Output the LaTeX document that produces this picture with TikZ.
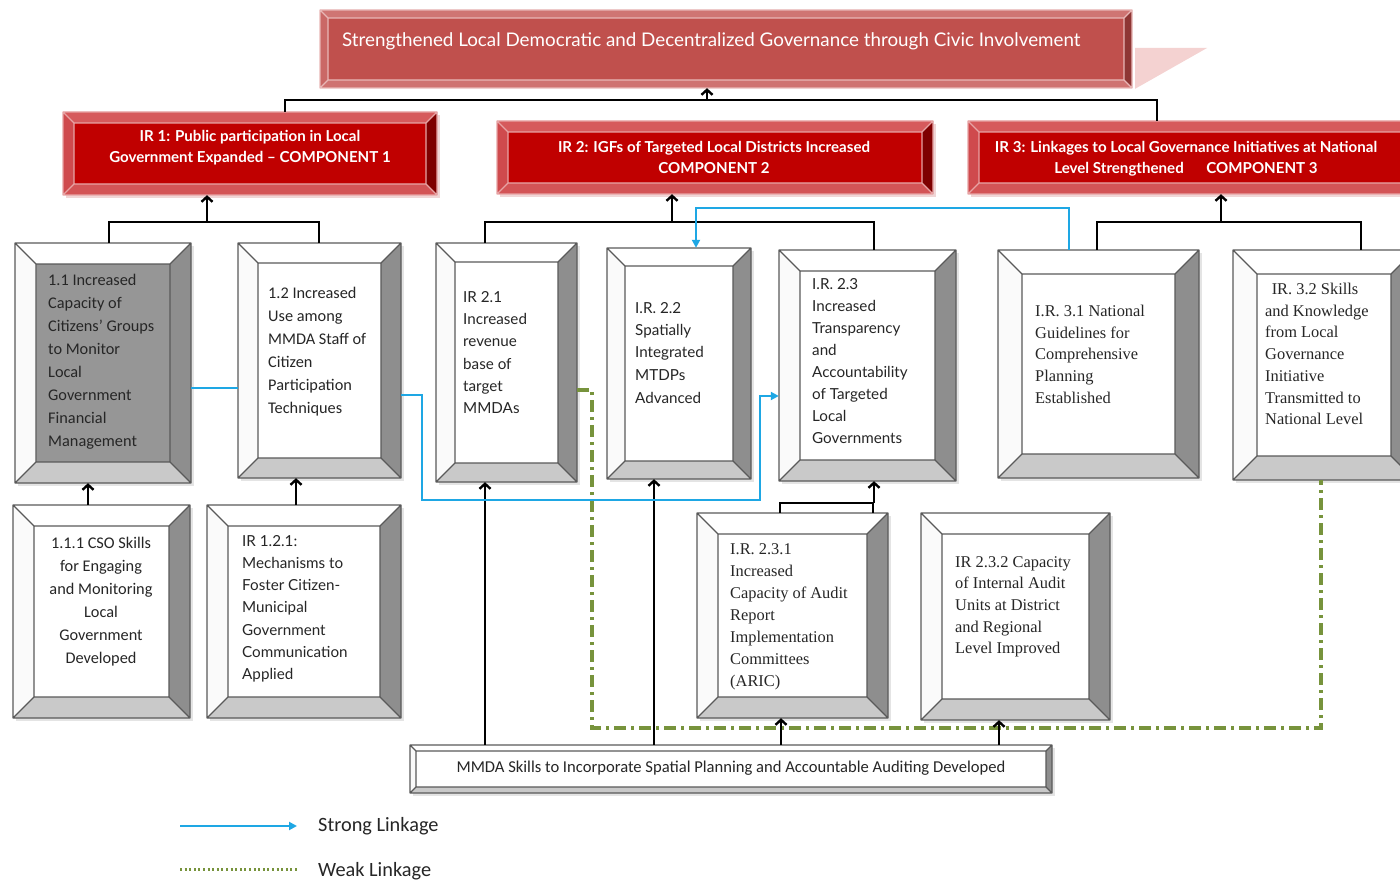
\documentclass[tikz,border=0pt]{standalone}
\usepackage{fontspec}
\setmainfont{Carlito}
\newfontfamily\gillf{Lato}
\newfontfamily\romf{Liberation Serif}
\usetikzlibrary{arrows.meta,fit}

% grey bevelled boxes
\definecolor{gface}{HTML}{FFFFFF}
\definecolor{gtop}{HTML}{FFFFFF}
\definecolor{gleft}{HTML}{FAFAFA}
\definecolor{gright}{HTML}{8E8E8E}
\definecolor{gbot}{HTML}{C9C9C9}
\definecolor{gedge}{HTML}{5A5A5A}
\definecolor{gshadow}{HTML}{E4E4E4}
% grey bevelled box with a dark face
\colorlet{dface}{black!41}
\colorlet{dtop}{gtop}
\colorlet{dleft}{gleft}
\colorlet{dright}{gright}
\colorlet{dbot}{gbot}
\colorlet{dedge}{gedge}
\colorlet{dshadow}{gshadow}
% dark red result boxes
\definecolor{rface}{HTML}{C00000}
\definecolor{rtop}{HTML}{D65A5C}
\definecolor{rleft}{HTML}{CF4A4D}
\definecolor{rright}{HTML}{7E0000}
\definecolor{rbot}{HTML}{D35456}
\definecolor{redge}{HTML}{E7A3A4}
\definecolor{rshadow}{HTML}{F0D6D6}
% goal banner
\definecolor{bface}{HTML}{C0504D}
\definecolor{btop}{HTML}{CF7573}
\definecolor{bleft}{HTML}{CA6866}
\definecolor{bright}{HTML}{8E3634}
\definecolor{bbot}{HTML}{CF7371}
\definecolor{bedge}{HTML}{E8B7B6}
\definecolor{bshadow}{HTML}{FFFFFF}
\definecolor{bpersp}{HTML}{F4D2D1}
% links
\definecolor{strongc}{HTML}{1EA7E4}
\definecolor{weakc}{HTML}{77933C}
\definecolor{txtc}{HTML}{262626}

% #1 name, #2 x1, #3 y1, #4 x2, #5 y2, #6 bevel, #7 colour scheme
\newcommand\bevbox[7]{%
  \fill[#7shadow] (#2+3,#3+3) rectangle (#4+3,#5+3);
  \fill[#7face] (#2,#3) rectangle (#4,#5);
  \fill[#7top] (#2,#3) -- (#4,#3) -- (#4-#6,#3+#6) -- (#2+#6,#3+#6) -- cycle;
  \fill[#7left] (#2,#3) -- (#2+#6,#3+#6) -- (#2+#6,#5-#6) -- (#2,#5) -- cycle;
  \fill[#7right] (#4,#3) -- (#4,#5) -- (#4-#6,#5-#6) -- (#4-#6,#3+#6) -- cycle;
  \fill[#7bot] (#2,#5) -- (#4,#5) -- (#4-#6,#5-#6) -- (#2+#6,#5-#6) -- cycle;
  \draw[#7edge, line width=1.3pt, line join=round]
    (#2,#3) rectangle (#4,#5)
    (#2+#6,#3+#6) rectangle (#4-#6,#5-#6)
    (#2,#3) -- (#2+#6,#3+#6) (#4,#3) -- (#4-#6,#3+#6)
    (#2,#5) -- (#2+#6,#5-#6) (#4,#5) -- (#4-#6,#5-#6);
  \node[fit={(#2,#3)(#4,#5)}, inner sep=0pt] (#1) {};
}

\tikzset{
  conn/.style={line width=2.4pt, black},
  arr/.style={conn, -{Straight Barb[length=5pt,width=11pt]}},
  strong/.style={line width=2pt, strongc},
  strongarr/.style={strong, -{Triangle[length=8pt,width=8pt]}},
  weak/.style={line width=3.4pt, weakc, dash pattern=on 12pt off 5pt on 3pt off 5pt},
  weakleg/.style={line width=3pt, weakc, dash pattern=on 2pt off 2.6pt},
  txt/.style={anchor=north west, inner sep=0pt, align=left, text=txtc},
  cal/.style={font=\fontsize{16.3}{23}\selectfont},
  gil/.style={font=\gillf\fontsize{15.2}{22.3}\selectfont},
  rom/.style={font=\romf\fontsize{16.4}{21.7}\selectfont},
  head/.style={inner sep=0pt, align=center, text=white,
    font=\gillf\bfseries\fontsize{15.1}{21}\selectfont},
}

\begin{document}
\begin{tikzpicture}[x=1pt, y=-1pt]
\useasboundingbox (0,0) rectangle (1400,882);
\clip (0,0) rectangle (1400,882);
\fill[white] (0,0) rectangle (1400,882);

% goal banner with its perspective shadow
\fill[bpersp] (1125,48) -- (1207,48) -- (1133,90) -- cycle;
\bevbox{goal}{320}{10}{1132}{88}{8}{b}
\node[anchor=west, inner sep=0pt, text=white, font=\gillf\fontsize{18.8}{22}\selectfont]
  (goaltxt) at (342,41) {Strengthened Local Democratic and Decentralized Governance through Civic Involvement};

% intermediate results
\bevbox{ir1}{63}{112}{437}{195}{11}{r}
\bevbox{ir2}{497}{121}{933}{194}{11}{r}
\bevbox{ir3}{968}{121}{1412}{194}{11}{r}
\node[head] (ir1txt) at (250,148) {IR 1: Public participation in Local\\Government Expanded – COMPONENT 1};
\node[head] (ir2txt) at (714,157.5) {IR 2: IGFs of Targeted Local Districts Increased\\COMPONENT 2};
\node[head] (ir3txt) at (1186,158.5) {IR 3: Linkages to Local Governance Initiatives at National\\Level Strengthened\hspace{1.5em}COMPONENT 3};

% sub-results, first row
\bevbox{b11}{15}{243}{191}{483}{21}{d}
\bevbox{b12}{238}{243}{401}{478}{20}{g}
\bevbox{b21}{436}{243}{577}{482}{19}{g}
\bevbox{b22}{607}{248}{751}{479}{18}{g}
\bevbox{b23}{779}{250}{956}{481}{21}{g}
\bevbox{b31}{998}{250}{1199}{478}{24}{g}
\bevbox{b32}{1233}{250}{1415}{480}{24}{g}

% sub-results, second row
\bevbox{b111}{13}{505}{190}{718}{21}{g}
\bevbox{b121}{207}{505}{401}{718}{21}{g}
\bevbox{b231}{697}{513}{888}{718}{21}{g}
\bevbox{b232}{921}{513}{1110}{720}{21}{g}

% cross-cutting result
\bevbox{bot}{410}{745}{1052}{793}{6}{g}
\node[inner sep=0pt, text=txtc, font=\fontsize{16.6}{19}\selectfont] (bottxt) at (731,768)
  {MMDA Skills to Incorporate Spatial Planning and Accountable Auditing Developed};

% box texts
\node[txt, cal] (t11) at (48,274) {1.1 Increased\\Capacity of\\Citizens' Groups\\to Monitor\\Local\\Government\\Financial\\Management};
\node[txt, cal] (t12) at (268,287) {1.2 Increased\\Use among\\MMDA Staff of\\Citizen\\Participation\\Techniques};
\node[txt, gil] (t21) at (463,291) {IR 2.1\\Increased\\revenue\\base of\\target\\MMDAs};
\node[txt, gil] (t22) at (635,302) {I.R. 2.2\\Spatially\\Integrated\\MTDPs\\[1.5pt]Advanced};
\node[txt, gil, font=\gillf\fontsize{15.2}{22}\selectfont] (t23) at (812,278) {I.R. 2.3\\Increased\\Transparency\\and\\Accountability\\of Targeted\\Local\\Governments};
\node[txt, rom] (t31) at (1035,305) {I.R. 3.1 National\\Guidelines for\\Comprehensive\\Planning\\Established};
\node[txt, rom] (t32) at (1265,283) {\hspace{0.4em}IR. 3.2 Skills\\and Knowledge\\from Local\\Governance\\Initiative\\Transmitted to\\National Level};
\node[txt, cal, anchor=north, align=center] (t111) at (101,537) {1.1.1 CSO Skills\\for Engaging\\and Monitoring\\Local\\Government\\Developed};
\node[txt, gil, font=\gillf\fontsize{15.2}{22.2}\selectfont] (t121) at (242,535) {IR 1.2.1:\\Mechanisms to\\Foster Citizen-\\Municipal\\Government\\Communication\\Applied};
\node[txt, rom, font=\romf\fontsize{16.4}{22}\selectfont] (t231) at (730,543) {I.R. 2.3.1\\Increased\\Capacity of Audit\\Report\\Implementation\\Committees\\(ARIC)};
\node[txt, rom, font=\romf\fontsize{16.4}{21.7}\selectfont] (t232) at (955,556) {IR 2.3.2 Capacity\\of Internal Audit\\Units at District\\and Regional\\Level Improved};

% junction points of the tree
\coordinate (k0) at (707,100);
\coordinate (k0a) at (285,100);
\coordinate (k0b) at (1157,100);
\coordinate (k1) at (207,222);
\coordinate (k1a) at (109,222);
\coordinate (k1b) at (319,222);
\coordinate (k2) at (672,222);
\coordinate (k2a) at (485,222);
\coordinate (k2b) at (874,222);
\coordinate (k3) at (1221,222);
\coordinate (k3a) at (1097,222);
\coordinate (k3b) at (1361,222);
\coordinate (k4) at (874,503);
\coordinate (k4a) at (780,503);
\coordinate (k4b) at (873,503);

% results tree
\draw[conn] (ir1.north -| k0a) -- (k0a) -- (k0b) -- (ir3.north -| k0b);
\draw[arr] (k0) -- (k0 |- goal.south);
\draw[conn] (b11.north -| k1a) -- (k1a) -- (k1b) -- (b12.north -| k1b);
\draw[arr] (k1) -- (k1 |- ir1.south);
\draw[conn] (b21.north -| k2a) -- (k2a) -- (k2b) -- (b23.north -| k2b);
\draw[arr] (k2) -- (k2 |- ir2.south);
\draw[conn] (b31.north -| k3a) -- (k3a) -- (k3b) -- (b32.north -| k3b);
\draw[arr] (k3) -- (k3 |- ir3.south);
\draw[conn] (b231.north -| k4a) -- (k4a) -- (k4b) -- (b232.north -| k4b);
\draw[arr] (k4) -- (k4 |- b23.south);
\coordinate (k5) at (88,505);
\coordinate (k6) at (296,505);
\draw[arr] (b111.north -| k5) -- (k5 |- b11.south);
\draw[arr] (b121.north -| k6) -- (k6 |- b12.south);

% weak linkage
\coordinate (g1) at (592,390);
\coordinate (g2) at (592,728);
\coordinate (g3) at (1321,728);
\draw[weak] (b21.east |- g1) -- (g1) -- (g2) -- (g3) -- (g3 |- b32.south);

% skills feeding up from the cross-cutting result
\coordinate (m1) at (485,745);
\coordinate (m2) at (654,745);
\coordinate (m3) at (781,745);
\coordinate (m4) at (999,745);
\draw[arr] (bot.north -| m1) -- (m1 |- b21.south);
\draw[arr] (bot.north -| m2) -- (m2 |- b22.south);
\draw[arr] (bot.north -| m3) -- (m3 |- b231.south);
\draw[arr] (bot.north -| m4) -- (m4 |- b232.south);

% strong linkages
\coordinate (v0) at (0,388);
\draw[strong] (b11.east |- v0) -- (b12.west |- v0);
\coordinate (w1) at (422,395);
\coordinate (w2) at (422,500);
\coordinate (w3) at (760,500);
\coordinate (w4) at (760,396);
\draw[strongarr] (b12.east |- w1) -- (w1) -- (w2) -- (w3) -- (w4) -- (b23.west |- w4);
\coordinate (u1) at (1069,208);
\coordinate (u2) at (696,208);
\draw[strongarr] (b31.north -| u1) -- (u1) -- (u2) -- (u2 |- b22.north);

% legend
\coordinate (ls1) at (180,826);
\coordinate (ls2) at (297,826);
\coordinate (lw1) at (180,869);
\coordinate (lw2) at (298,869);
\draw[strongarr] (ls1) -- (ls2);
\draw[weakleg] (lw1) -- (lw2);
\node[anchor=west, inner sep=0pt, text=txtc, font=\fontsize{20.3}{23}\selectfont] (lstxt) at (318,826) {Strong Linkage};
\node[anchor=west, inner sep=0pt, text=txtc, font=\fontsize{20.3}{23}\selectfont] (lwtxt) at (318,871) {Weak Linkage};
\end{tikzpicture}
\end{document}
